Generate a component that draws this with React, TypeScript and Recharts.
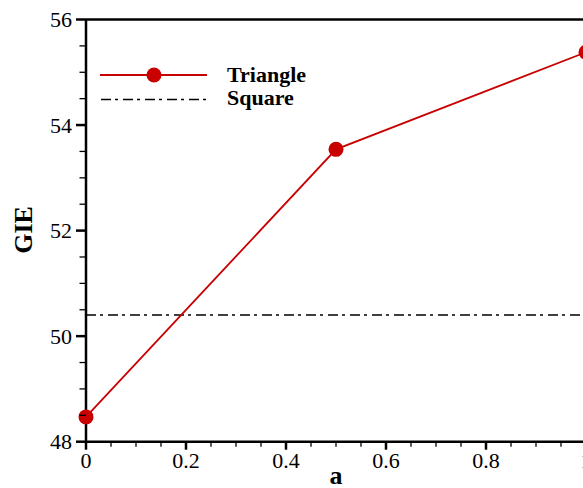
import { Line, LineChart, ReferenceLine, XAxis, YAxis } from 'recharts';

const aValues = [0, 0.5, 1];
const triangleGIE = [48.47, 53.54, 55.38];
const squareGIE = 50.4;

const xMajorTicks = [0, 0.2, 0.4, 0.6, 0.8, 1];
const xMinorTicks = [0.05, 0.1, 0.15, 0.25, 0.3, 0.35, 0.45, 0.5, 0.55, 0.65, 0.7, 0.75, 0.85, 0.9, 0.95];
const yMajorTicks = [48, 50, 52, 54, 56];
const yMinorTicks = [48.5, 49, 49.5, 50.5, 51, 51.5, 52.5, 53, 53.5, 54.5, 55, 55.5];

const serif = '"Liberation Serif", "Times New Roman", serif';
const red = '#c80000';
const dashDot = '10 4 3 5';

const rows = aValues.map((a, i) => ({ a, triangle: triangleGIE[i] }));
const xTicks = [...xMajorTicks, ...xMinorTicks].sort((p, q) => p - q);
const yTicks = [...yMajorTicks, ...yMinorTicks].sort((p, q) => p - q);

const labelStyle = { fontFamily: serif, fontSize: 22 };
const boldStyle = { fontFamily: serif, fontSize: 22, fontWeight: 'bold' as const };

function XTick({ x, y, payload }: any) {
  const major = xMajorTicks.includes(payload.value);
  return (
    <g>
      <line x1={x} x2={x} y1={y} y2={y + (major ? 8 : 5)} stroke="#000" strokeWidth={major ? 2.5 : 1.3} />
      {major && (
        <text x={x} y={y + 26} textAnchor="middle" style={labelStyle} fill="#000">
          {payload.value}
        </text>
      )}
    </g>
  );
}

function YTick({ x, y, payload }: any) {
  const major = yMajorTicks.includes(payload.value);
  return (
    <g>
      <line x1={x - (major ? 10 : 6.5)} x2={x} y1={y} y2={y} stroke="#000" strokeWidth={major ? 2.5 : 1.3} />
      {major && (
        <text x={x - 14} y={y + 7.5} textAnchor="end" style={labelStyle} fill="#000">
          {payload.value}
        </text>
      )}
    </g>
  );
}

export default function App() {
  return (
    <div style={{ position: 'absolute', left: 0, top: 0, width: 583, height: 488, overflow: 'hidden', background: '#fff' }}>
      <LineChart width={600} height={488} data={rows} margin={{ top: 19.5, right: 14, bottom: 0, left: 0 }}>
        <XAxis
          dataKey="a"
          type="number"
          domain={[0, 1]}
          ticks={xTicks}
          interval={0}
          tickSize={0}
          tickMargin={0}
          tickLine={false}
          tick={<XTick />}
          height={46.3}
          axisLine={{ stroke: '#000', strokeWidth: 2.5 }}
        />
        <YAxis
          type="number"
          domain={[48, 56]}
          ticks={yTicks}
          interval={0}
          tickSize={0}
          tickMargin={0}
          tickLine={false}
          tick={<YTick />}
          width={86}
          axisLine={{ stroke: '#000', strokeWidth: 2.5 }}
        />
        <ReferenceLine y={56} stroke="#000" strokeWidth={2.5} />
        <ReferenceLine x={1} stroke="#000" strokeWidth={2.5} />
        <ReferenceLine y={squareGIE} stroke="#000" strokeWidth={1.6} strokeDasharray={dashDot} />
        <Line
          dataKey="triangle"
          stroke={red}
          strokeWidth={1.8}
          dot={{ r: 7.5, fill: red, stroke: red, strokeWidth: 0 }}
          isAnimationActive={false}
        />
        {/* legend */}
        <line x1={100} x2={207} y1={75} y2={75} stroke={red} strokeWidth={2} />
        <circle cx={154} cy={75} r={7.5} fill={red} />
        <text x={227} y={82} style={boldStyle} fill="#000">
          Triangle
        </text>
        <line x1={101} x2={207} y1={99.5} y2={99.5} stroke="#000" strokeWidth={1.6} strokeDasharray={dashDot} />
        <text x={227} y={105} style={boldStyle} fill="#000">
          Square
        </text>
        <text x={31.5} y={230} transform="rotate(-90, 31.5, 230)" textAnchor="middle" style={{ ...boldStyle, fontSize: 26 }} fill="#000">
          GIE
        </text>
        <text x={336} y={484} textAnchor="middle" style={{ ...boldStyle, fontSize: 26 }} fill="#000">
          a
        </text>
      </LineChart>
    </div>
  );
}
